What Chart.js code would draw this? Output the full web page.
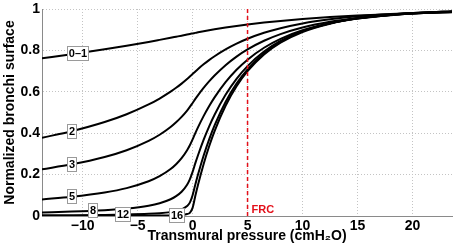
<!DOCTYPE html>
<html>
<head>
<meta charset="utf-8">
<title>Normalized bronchi surface vs transmural pressure</title>
<script src="https://cdn.jsdelivr.net/npm/chart.js@4.4.1/dist/chart.umd.min.js"></script>
<style>
    html, body { margin: 0; padding: 0; background: #fff; }
    #wrap { width: 454px; height: 252px; }
</style>
</head>
<body>
<div id="wrap"><canvas id="bronchiChart" width="454" height="252"></canvas></div>
<script>
/**
 * Normalized bronchi surface as a function of transmural pressure,
 * one curve per airway generation
 */

// Transmural pressure (cmH2O) shared by every curve
const pressures = [-13.7, -11, -8, -6, -4, -3, -2, -1.5, -1, -0.5, -0.25, 0, 0.25, 0.5,
    1, 1.5, 2, 3, 4, 5, 6.5, 8, 10, 12.5, 15, 18, 21, 23.6];

// Normalized surface per generation
const gen01 = [0.7615, 0.7813, 0.8053, 0.8226, 0.8410, 0.8508, 0.8608, 0.8660, 0.8712, 0.8765, 0.8793, 0.882, 0.8847, 0.8874,
    0.8925, 0.8973, 0.9019, 0.9104, 0.9182, 0.9252, 0.9345, 0.9425, 0.9516, 0.9608, 0.9681, 0.9750, 0.9803, 0.9838];
const gen2 = [0.3782, 0.4095, 0.4538, 0.4914, 0.5388, 0.5675, 0.6007, 0.6193, 0.6396, 0.6617, 0.6736, 0.686, 0.6985, 0.7104,
    0.7327, 0.7532, 0.7719, 0.8049, 0.8327, 0.8562, 0.8849, 0.9074, 0.9303, 0.9505, 0.9645, 0.9758, 0.9833, 0.9878];
const gen3 = [0.2261, 0.2496, 0.2851, 0.3177, 0.3628, 0.3926, 0.4301, 0.4528, 0.4789, 0.5095, 0.5269, 0.546, 0.5655, 0.5841,
    0.6188, 0.6502, 0.6789, 0.7288, 0.7702, 0.8048, 0.8465, 0.8786, 0.9104, 0.9379, 0.9565, 0.9711, 0.9805, 0.9860];
const gen5 = [0.0800, 0.0927, 0.1135, 0.1348, 0.1677, 0.1922, 0.2267, 0.2499, 0.2791, 0.3174, 0.3415, 0.370, 0.4004, 0.4292,
    0.4824, 0.5301, 0.5731, 0.6466, 0.7065, 0.7553, 0.8127, 0.8556, 0.8970, 0.9313, 0.9535, 0.9703, 0.9806, 0.9865];
const gen8 = [0.0175, 0.0213, 0.0283, 0.0361, 0.0499, 0.0617, 0.0809, 0.0957, 0.1172, 0.1512, 0.1769, 0.213, 0.2552, 0.2949,
    0.3676, 0.4321, 0.4894, 0.5859, 0.6627, 0.7242, 0.7945, 0.8456, 0.8931, 0.9313, 0.9551, 0.9724, 0.9826, 0.9882];
const gen12 = [0.0032, 0.0040, 0.0054, 0.0071, 0.0103, 0.0133, 0.0187, 0.0234, 0.0315, 0.0479, 0.0647, 0.100, 0.1527, 0.2019,
    0.2911, 0.3692, 0.4377, 0.5511, 0.6394, 0.7086, 0.7862, 0.8413, 0.8916, 0.9310, 0.9550, 0.9723, 0.9824, 0.9879];
const gen16 = [0.0005, 0.0006, 0.0008, 0.0010, 0.0015, 0.0020, 0.0029, 0.0038, 0.0054, 0.0095, 0.0153, 0.039, 0.0976, 0.1522,
    0.2504, 0.3358, 0.4103, 0.5323, 0.6264, 0.6994, 0.7804, 0.8374, 0.8890, 0.9292, 0.9536, 0.9712, 0.9816, 0.9873];

const curves = [gen01, gen2, gen3, gen5, gen8, gen12, gen16];
const generationLabels = ['0\u20131', '2', '3', '5', '8', '12', '16'];
// pressure where each inline label sits on its curve
const labelPressures = [-10.45, -11, -11, -11, -9.1, -6.3, -1.45];

const xTicks = [-10, -5, 0, 5, 10, 15, 20];
const yTicks = [0, 0.2, 0.4, 0.6, 0.8, 1];
const frcPressure = 5;

const FONT = '"Liberation Sans", Arial, Helvetica, sans-serif';
Chart.defaults.font.family = FONT;
Chart.defaults.color = '#000';

/**
 * Linear lookup of a curve value at a given pressure
 */
function valueAt(values, p) {
    for (let i = 0; i < pressures.length - 1; i++) {
        if (p >= pressures[i] && p <= pressures[i + 1]) {
            const t = (p - pressures[i]) / (pressures[i + 1] - pressures[i]);
            return values[i] + t * (values[i + 1] - values[i]);
        }
    }
    return values[values.length - 1];
}

function formatTick(v) {
    return v < 0 ? '\u2212' + Math.abs(v) : String(v);
}

/**
 * FRC marker + boxed generation labels
 */
const annotationsPlugin = {
    id: 'frcAndLabels',
    afterDatasetsDraw(chart) {
        const { ctx, chartArea } = chart;
        const x = chart.scales.x;
        const y = chart.scales.y;

        // FRC dashed line
        const fx = x.getPixelForValue(frcPressure);
        ctx.save();
        ctx.strokeStyle = '#e3101a';
        ctx.lineWidth = 1.5;
        ctx.setLineDash([4, 3]);
        ctx.beginPath();
        ctx.moveTo(fx, chartArea.top);
        ctx.lineTo(fx, chartArea.bottom);
        ctx.stroke();
        ctx.setLineDash([]);
        ctx.fillStyle = '#e3101a';
        ctx.font = 'bold 11px ' + FONT;
        ctx.textAlign = 'left';
        ctx.textBaseline = 'alphabetic';
        ctx.fillText('FRC', fx + 4, chartArea.bottom - 3);

        // generation labels
        ctx.font = 'bold 11px ' + FONT;
        ctx.textAlign = 'center';
        ctx.textBaseline = 'middle';
        generationLabels.forEach((label, i) => {
            const p = labelPressures[i];
            const px = x.getPixelForValue(p);
            const py = y.getPixelForValue(valueAt(curves[i], p));
            const w = Math.round(ctx.measureText(label).width + 4);
            const h = 15;
            const left = Math.round(px - w / 2);
            const top = Math.round(py - h / 2);
            ctx.fillStyle = '#fff';
            ctx.fillRect(left, top, w, h);
            ctx.strokeStyle = '#9a9a9a';
            ctx.lineWidth = 1;
            ctx.strokeRect(left + 0.5, top + 0.5, w - 1, h - 1);
            ctx.fillStyle = '#000';
            ctx.fillText(label, left + w / 2, top + h / 2 + 0.5);
        });
        ctx.restore();
    }
};

const ctx = document.getElementById('bronchiChart');

new Chart(ctx, {
    type: 'line',
    data: {
        datasets: curves.map((values, i) => ({
            label: generationLabels[i],
            data: pressures.map((p, j) => ({ x: p, y: values[j] })),
            borderColor: '#000',
            borderWidth: 2,
            pointRadius: 0,
            fill: false,
            cubicInterpolationMode: 'monotone'
        }))
    },
    options: {
        responsive: false,
        animation: false,
        devicePixelRatio: 1,
        layout: {
            padding: { top: 7, right: 2, left: 0, bottom: 0 }
        },
        plugins: {
            legend: { display: false },
            tooltip: { enabled: false }
        },
        scales: {
            x: {
                type: 'linear',
                min: -13.7,
                max: 23.6,
                afterBuildTicks: (scale) => {
                    scale.ticks = xTicks.map(v => ({ value: v }));
                },
                afterFit: (scale) => {
                    scale.height = 36;
                },
                ticks: {
                    callback: formatTick,
                    font: { size: 14, weight: 'bold' },
                    padding: 2,
                    maxRotation: 0,
                    autoSkip: false
                },
                grid: {
                    color: '#c4c4c4',
                    lineWidth: 1,
                    drawTicks: false
                },
                border: {
                    display: true,
                    color: '#8a8a8a',
                    width: 1,
                    dash: [1, 2]
                },
                title: {
                    display: true,
                    text: 'Transmural pressure (cmH\u2082O)',
                    font: { size: 14, weight: 'bold' },
                    padding: { top: 0, bottom: 7 }
                }
            },
            y: {
                type: 'linear',
                min: 0,
                max: 1,
                afterBuildTicks: (scale) => {
                    scale.ticks = yTicks.map(v => ({ value: v }));
                },
                afterFit: (scale) => {
                    scale.width = 42;
                },
                ticks: {
                    callback: formatTick,
                    font: { size: 14, weight: 'bold', lineHeight: 1 },
                    padding: 2
                },
                grid: {
                    color: '#c4c4c4',
                    lineWidth: 1,
                    drawTicks: false
                },
                border: {
                    display: true,
                    color: '#8a8a8a',
                    width: 1,
                    dash: [1, 2]
                },
                title: {
                    display: true,
                    text: 'Normalized bronchi surface',
                    font: { size: 14, weight: 'bold' },
                    padding: { top: 1.5, bottom: 0 }
                }
            }
        }
    },
    plugins: [annotationsPlugin]
});
</script>
</body>
</html>
